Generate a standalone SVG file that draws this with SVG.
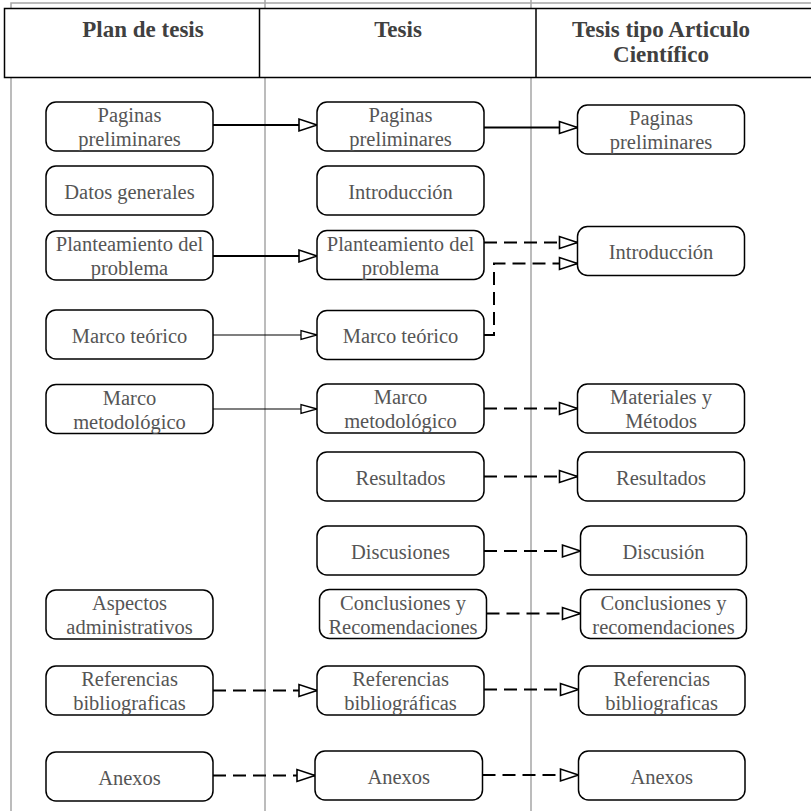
<svg xmlns="http://www.w3.org/2000/svg" width="811" height="811" viewBox="0 0 811 811">
<defs>
<style>
.lane{stroke:#a6a6a6;stroke-width:1.5;fill:none}
.hdr{fill:#fff;stroke:#000;stroke-width:1.5}
.ht{font-family:'Liberation Serif','Times New Roman',Tinos,'DejaVu Serif',serif;font-weight:bold;font-size:23px;fill:#404040;text-anchor:middle}
.box{fill:#fff;stroke:#000;stroke-width:1.5}
.t{font-family:'Liberation Serif','Times New Roman',Tinos,'DejaVu Serif',serif;font-size:20.5px;fill:#555;text-anchor:middle}
.c{fill:none;stroke:#000}
.s2{stroke-width:2;marker-end:url(#ah)}
.s1{stroke-width:1.2;marker-end:url(#ahs)}
.d{stroke-width:2;stroke-dasharray:13 7;marker-end:url(#ah)}
</style>
<marker id="ah" markerUnits="userSpaceOnUse" markerWidth="24" markerHeight="18" viewBox="-21 -9 24 18" refX="0" refY="0" orient="auto"><path d="M0,0 L-18,-6 L-18,6 Z" fill="#fff" stroke="#000" stroke-width="1.6"/></marker>
<marker id="ahs" markerUnits="userSpaceOnUse" markerWidth="22" markerHeight="14" viewBox="-19 -7 22 14" refX="0" refY="0" orient="auto"><path d="M0,0 L-16,-4.5 L-16,4.5 Z" fill="#fff" stroke="#000" stroke-width="1.3"/></marker>
</defs>
<rect width="811" height="811" fill="#fff"/>
<g id="lanes">
<path class="lane" d="M11,811 V3 H811 M265,0 V811 M531,0 V811"/>
</g>
<g id="header">
<rect class="hdr" x="4.5" y="8.5" width="815" height="69"/>
<line x1="259.5" y1="8.5" x2="259.5" y2="77.5" stroke="#000" stroke-width="1.5"/>
<line x1="536" y1="8.5" x2="536" y2="77.5" stroke="#000" stroke-width="1.5"/>
<text class="ht" x="143" y="37">Plan de tesis</text>
<text class="ht" x="398" y="37">Tesis</text>
<text class="ht" x="661" y="37">Tesis tipo Articulo</text>
<text class="ht" x="661" y="62">Científico</text>
</g>
<g id="connectors">
<path class="c s2" d="M213,125 H317"/>
<path class="c s2" d="M484,127.5 H577.5"/>
<path class="c s2" style="stroke-width:1.8" d="M213,256 H317"/>
<path class="c s1" d="M213,335 H317"/>
<path class="c s1" d="M213,409 H317"/>
<path class="c d" d="M484,242.5 H577.5"/>
<path class="c d" d="M484,335 H494 V263.5 H577.5"/>
<path class="c d" d="M484,408.5 H577.5"/>
<path class="c d" d="M484,476.5 H577.5"/>
<path class="c d" d="M484,551 H580.5"/>
<path class="c d" d="M486.5,613.5 H580.5"/>
<path class="c d" d="M213,690.5 H317"/>
<path class="c d" d="M484,689.5 H578.5"/>
<path class="c d" d="M213,775.5 H315"/>
<path class="c d" d="M482.5,775 H578.5"/>
</g>
<g id="p1"><rect class="box" x="46" y="102" width="167" height="49" rx="10"/><text class="t" x="129.5" y="122">Paginas</text><text class="t" x="129.5" y="146">preliminares</text></g>
<g id="p2"><rect class="box" x="46" y="166" width="167" height="49" rx="10"/><text class="t" x="129.5" y="198.5">Datos generales</text></g>
<g id="p3"><rect class="box" x="46" y="231" width="167" height="49" rx="10"/><text class="t" x="129.5" y="251">Planteamiento del</text><text class="t" x="129.5" y="275">problema</text></g>
<g id="p4"><rect class="box" x="46" y="310" width="167" height="49" rx="10"/><text class="t" x="129.5" y="342.5">Marco teórico</text></g>
<g id="p5"><rect class="box" x="46" y="384.5" width="167" height="49" rx="10"/><text class="t" x="129.5" y="404.5">Marco</text><text class="t" x="129.5" y="428.5">metodológico</text></g>
<g id="p6"><rect class="box" x="46" y="590" width="167" height="49" rx="10"/><text class="t" x="129.5" y="610">Aspectos</text><text class="t" x="129.5" y="634">administrativos</text></g>
<g id="p7"><rect class="box" x="46" y="666" width="167" height="49" rx="10"/><text class="t" x="129.5" y="686">Referencias</text><text class="t" x="129.5" y="710">bibliograficas</text></g>
<g id="p8"><rect class="box" x="46" y="752" width="167" height="49" rx="10"/><text class="t" x="129.5" y="784.5">Anexos</text></g>
<g id="t1"><rect class="box" x="317" y="102" width="167" height="49" rx="10"/><text class="t" x="400.5" y="122">Paginas</text><text class="t" x="400.5" y="146">preliminares</text></g>
<g id="t2"><rect class="box" x="317" y="166" width="167" height="49" rx="10"/><text class="t" x="400.5" y="198.5">Introducción</text></g>
<g id="t3"><rect class="box" x="317" y="230.5" width="167" height="49" rx="10"/><text class="t" x="400.5" y="250.5">Planteamiento del</text><text class="t" x="400.5" y="274.5">problema</text></g>
<g id="t4"><rect class="box" x="317" y="310.5" width="167" height="49" rx="10"/><text class="t" x="400.5" y="343">Marco teórico</text></g>
<g id="t5"><rect class="box" x="317" y="384" width="167" height="49" rx="10"/><text class="t" x="400.5" y="404">Marco</text><text class="t" x="400.5" y="428">metodológico</text></g>
<g id="t6"><rect class="box" x="317" y="452" width="167" height="49" rx="10"/><text class="t" x="400.5" y="484.5">Resultados</text></g>
<g id="t7"><rect class="box" x="317" y="526" width="167" height="49" rx="10"/><text class="t" x="400.5" y="558.5">Discusiones</text></g>
<g id="t8"><rect class="box" x="319.5" y="589.5" width="167" height="49" rx="10"/><text class="t" x="403" y="609.5">Conclusiones y</text><text class="t" x="403" y="633.5">Recomendaciones</text></g>
<g id="t9"><rect class="box" x="317" y="666" width="167" height="49" rx="10"/><text class="t" x="400.5" y="686">Referencias</text><text class="t" x="400.5" y="710">bibliográficas</text></g>
<g id="t10"><rect class="box" x="315" y="751" width="167.5" height="49" rx="10"/><text class="t" x="398.7" y="783.5">Anexos</text></g>
<g id="a1"><rect class="box" x="577.5" y="105" width="167" height="49" rx="10"/><text class="t" x="661" y="125">Paginas</text><text class="t" x="661" y="149">preliminares</text></g>
<g id="a2"><rect class="box" x="577.5" y="226.5" width="167" height="49" rx="10"/><text class="t" x="661" y="259">Introducción</text></g>
<g id="a3"><rect class="box" x="577.5" y="384" width="167" height="49" rx="10"/><text class="t" x="661" y="404">Materiales y</text><text class="t" x="661" y="428">Métodos</text></g>
<g id="a4"><rect class="box" x="577.5" y="452" width="167" height="49" rx="10"/><text class="t" x="661" y="484.5">Resultados</text></g>
<g id="a5"><rect class="box" x="580.5" y="526" width="166" height="49" rx="10"/><text class="t" x="663.5" y="558.5">Discusión</text></g>
<g id="a6"><rect class="box" x="580.5" y="589.5" width="166" height="49" rx="10"/><text class="t" x="663.5" y="609.5">Conclusiones y</text><text class="t" x="663.5" y="633.5">recomendaciones</text></g>
<g id="a7"><rect class="box" x="578.5" y="666" width="166.5" height="49" rx="10"/><text class="t" x="661.7" y="686">Referencias</text><text class="t" x="661.7" y="710">bibliograficas</text></g>
<g id="a8"><rect class="box" x="578.5" y="751" width="166.5" height="49" rx="10"/><text class="t" x="661.7" y="783.5">Anexos</text></g>
</svg>
